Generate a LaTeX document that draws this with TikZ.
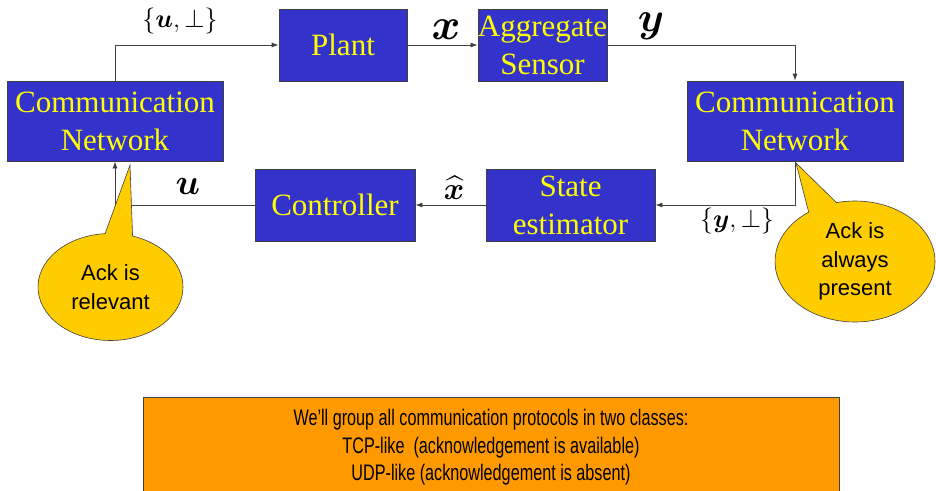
\RequirePackage{fix-cm}
\documentclass[tikz,border=0pt]{standalone}
\usepackage{fontspec}
\setmainfont{Liberation Serif}
\newfontfamily\calloutfont{Liberation Sans}
\newfontfamily\notefont{Liberation Sans}[FakeStretch=0.72]
\usepackage{amsmath, amssymb}
\usepackage{bm}
\usetikzlibrary{arrows.meta, positioning, shapes.callouts}
\definecolor{blockblue}{RGB}{51, 51, 204}
\definecolor{blocktext}{RGB}{255, 255, 0}
\definecolor{ackyellow}{RGB}{255, 204, 0}
\definecolor{noteorange}{RGB}{255, 153, 0}
\definecolor{edgegray}{RGB}{64, 64, 64}

\begin{document}
\begin{tikzpicture}[
        x=1pt, y=-1pt,
        block/.style={rectangle, draw=edgegray, fill=blockblue, text=blocktext,
            align=center, inner sep=0pt, line width=0.8pt,
            font=\fontsize{31}{38}\selectfont},
        arrow/.style={-{Latex[length=7pt, width=5pt]}, color=edgegray, line width=0.8pt},
        sig/.style={inner sep=0pt},
        ack/.style={ellipse callout, draw=edgegray, fill=ackyellow, align=center,
            inner sep=0pt, callout pointer arc=22, line width=0.6pt,
            font=\calloutfont\fontsize{22}{28.5}\selectfont},
        note/.style={rectangle, draw=edgegray, fill=noteorange, align=center,
            minimum width=696pt, minimum height=101pt, line width=0.8pt,
            font=\notefont\fontsize{22.5}{27.5}\selectfont}
        ]
        \useasboundingbox (0,0) rectangle (936,490);

        \node[block, minimum width=216pt, minimum height=80pt] (netL) at (115,121)
        {Communication\\Network};
        \node[block, minimum width=128pt, minimum height=72pt] (plant) at (343,45) {Plant};
        \node[block, minimum width=129pt, minimum height=72pt] (sensor) at (542.5,45)
        {Aggregate\\Sensor};
        \node[block, minimum width=216pt, minimum height=80pt] (netR) at (795,121)
        {Communication\\Network};
        \node[block, minimum width=169pt, minimum height=72pt] (est) at (570.5,205)
        {State\\estimator};
        \node[block, minimum width=160pt, minimum height=72pt] (ctrl) at (335,205)
        {Controller};

        \draw[arrow] (netL.north) |- (plant.west);
        \draw[arrow] (plant.east) -- (sensor.west);
        \draw[arrow] (sensor.east) -| (netR.north);
        \draw[arrow] (netR.south) |- (est.east);
        \draw[arrow] (est.west) -- (ctrl.east);
        \draw[arrow] (ctrl.west) -| (netL.south);

        \node[sig, font=\fontsize{26}{26}\selectfont] (uack) at (180,21) {$\{\bm{u},\perp\}$};
        \node[sig, font=\fontsize{44}{44}\selectfont] (xlab) at (446,30) {$\bm{x}$};
        \node[sig, font=\fontsize{42}{42}\selectfont] (ylab) at (651,26) {$\bm{y}$};
        \node[sig, font=\fontsize{26}{26}\selectfont] (yack) at (737,221) {$\{\bm{y},\perp\}$};
        \node[sig, font=\fontsize{31}{31}\selectfont] (xhat) at (454,188) {$\widehat{\bm{x}}$};
        \node[sig, font=\fontsize{36}{36}\selectfont] (ulab) at (188,186) {$\bm{u}$};

        \coordinate (tipL) at (130,165);
        \coordinate (tipR) at (796,163);
        \node[ack, minimum width=145pt, minimum height=107pt,
            callout absolute pointer=(tipL)] (ackL) at (110.5,287) {Ack is\\relevant};
        \node[ack, minimum width=160pt, minimum height=121pt,
            callout absolute pointer=(tipR)] (ackR) at (855,261.5) {Ack is\\always\\present};

        \node[note] (classes) at (491,447.5)
        {We’ll group all communication protocols in two classes:\\
            TCP-like~ (acknowledgement is available)\\
            UDP-like (acknowledgement is absent)};
    \end{tikzpicture}
\end{document}
